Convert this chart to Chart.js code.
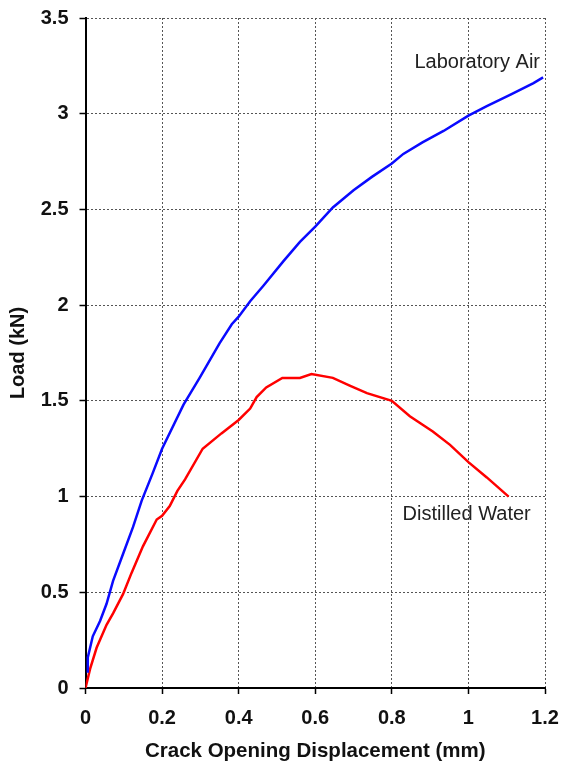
<!DOCTYPE html>
<html>
<head>
<meta charset="utf-8">
<script src="https://cdn.jsdelivr.net/npm/chart.js@4/dist/chart.umd.min.js"></script>
<style>
  html, body { margin: 0; padding: 0; background: #fff; }
  #wrap { width: 561px; height: 772px; position: relative; }
</style>
</head>
<body>
<div id="wrap"><canvas id="c"></canvas></div>
<script>
// ---- data ----
const airX = [0.006,0.006,0.012,0.019,0.038,0.055,0.072,0.098,0.124,0.147,0.175,0.2,0.256,0.298,0.35,0.382,0.4,0.43,0.464,0.517,0.56,0.6,0.646,0.70,0.748,0.80,0.83,0.88,0.935,1.0,1.048,1.11,1.17,1.195];
const airY = [0.08,0.16,0.21,0.27,0.35,0.44,0.56,0.70,0.84,0.98,1.12,1.25,1.48,1.62,1.80,1.90,1.94,2.02,2.10,2.23,2.33,2.41,2.51,2.60,2.67,2.74,2.79,2.85,2.91,2.99,3.04,3.10,3.16,3.19];
const waterX = [0,0.012,0.029,0.055,0.072,0.098,0.12,0.15,0.186,0.2,0.22,0.24,0.26,0.306,0.355,0.40,0.43,0.447,0.472,0.514,0.56,0.59,0.646,0.69,0.735,0.80,0.847,0.907,0.952,1.0,1.048,1.105];
const waterY = [0,0.10,0.21,0.33,0.39,0.49,0.60,0.74,0.88,0.90,0.95,1.03,1.09,1.25,1.33,1.40,1.46,1.52,1.57,1.62,1.62,1.64,1.62,1.58,1.54,1.50,1.42,1.34,1.27,1.18,1.10,1.00];
const seriesNames = ["Laboratory Air", "Distilled Water"];
const xTickValues = [0, 0.2, 0.4, 0.6, 0.8, 1, 1.2];
const yTickValues = [0, 0.5, 1, 1.5, 2, 2.5, 3, 3.5];
const xTitle = "Crack Opening Displacement (mm)";
const yTitle = "Load (kN)";
// label anchor points (data units)
const labelPos = [ {x: 1.187, y: 3.27, align: 'right'}, {x: 0.828, y: 0.905, align: 'left'} ];

const toPts = (xs, ys) => xs.map((x, i) => ({x, y: ys[i]}));

const FONT = "'Liberation Sans', Arial, sans-serif";

const labelPlugin = {
  id: 'seriesLabels',
  afterDatasetsDraw(chart) {
    const {ctx, scales: {x, y}} = chart;
    ctx.save();
    ctx.font = "20px " + FONT;
    ctx.fillStyle = '#222';
    ctx.textBaseline = 'middle';
    seriesNames.forEach((name, i) => {
      const p = labelPos[i];
      ctx.textAlign = p.align;
      ctx.fillText(name, x.getPixelForValue(p.x), y.getPixelForValue(p.y));
    });
    ctx.restore();
  }
};

new Chart(document.getElementById('c'), {
  type: 'scatter',
  data: {
    datasets: [
      { label: seriesNames[0], data: toPts(airX, airY), showLine: true, borderColor: '#0a0aff', borderWidth: 2.5, pointRadius: 0, tension: 0 },
      { label: seriesNames[1], data: toPts(waterX, waterY), showLine: true, borderColor: '#ff0000', borderWidth: 2.5, pointRadius: 0, tension: 0 }
    ]
  },
  options: {
    responsive: true,
    maintainAspectRatio: false,
    animation: false,
    layout: { padding: { top: 18, right: 16, left: 0, bottom: 0 } },
    plugins: { legend: { display: false }, tooltip: { enabled: false } },
    scales: {
      x: {
        type: 'linear', min: 0, max: 1.2,
        afterBuildTicks: s => { s.ticks = xTickValues.map(v => ({value: v})); },
        afterFit: s => { s.height = 84; s.paddingLeft = 0; s.paddingRight = 0; },
        ticks: { font: { family: FONT, size: 20, weight: 'bold' }, color: '#111', padding: 12,
                 callback: v => String(v), maxRotation: 0, autoSkip: false },
        grid: { color: '#555', lineWidth: 1, tickLength: 6, tickColor: '#000', tickWidth: 1.5 },
        border: { display: true, color: '#000', width: 2, dash: [2, 2] },
        title: { display: true, text: xTitle, font: { family: FONT, size: 20.5, weight: 'bold' }, color: '#111', padding: { top: 0, bottom: 8 } }
      },
      y: {
        type: 'linear', min: 0, max: 3.5,
        afterBuildTicks: s => { s.ticks = yTickValues.map(v => ({value: v})); },
        afterFit: s => { s.width = 85.5; s.paddingTop = 0; s.paddingBottom = 0; },
        ticks: { font: { family: FONT, size: 20, weight: 'bold' }, color: '#111', padding: 11,
                 callback: v => String(v), autoSkip: false },
        grid: { color: '#555', lineWidth: 1, tickLength: 6, tickColor: '#000', tickWidth: 1.5 },
        border: { display: true, color: '#000', width: 2, dash: [2, 2] },
        title: { display: true, text: yTitle, font: { family: FONT, size: 20, weight: 'bold' }, color: '#111', padding: { top: 6, bottom: 0 } }
      }
    }
  },
  plugins: [labelPlugin]
});
</script>
</body>
</html>
